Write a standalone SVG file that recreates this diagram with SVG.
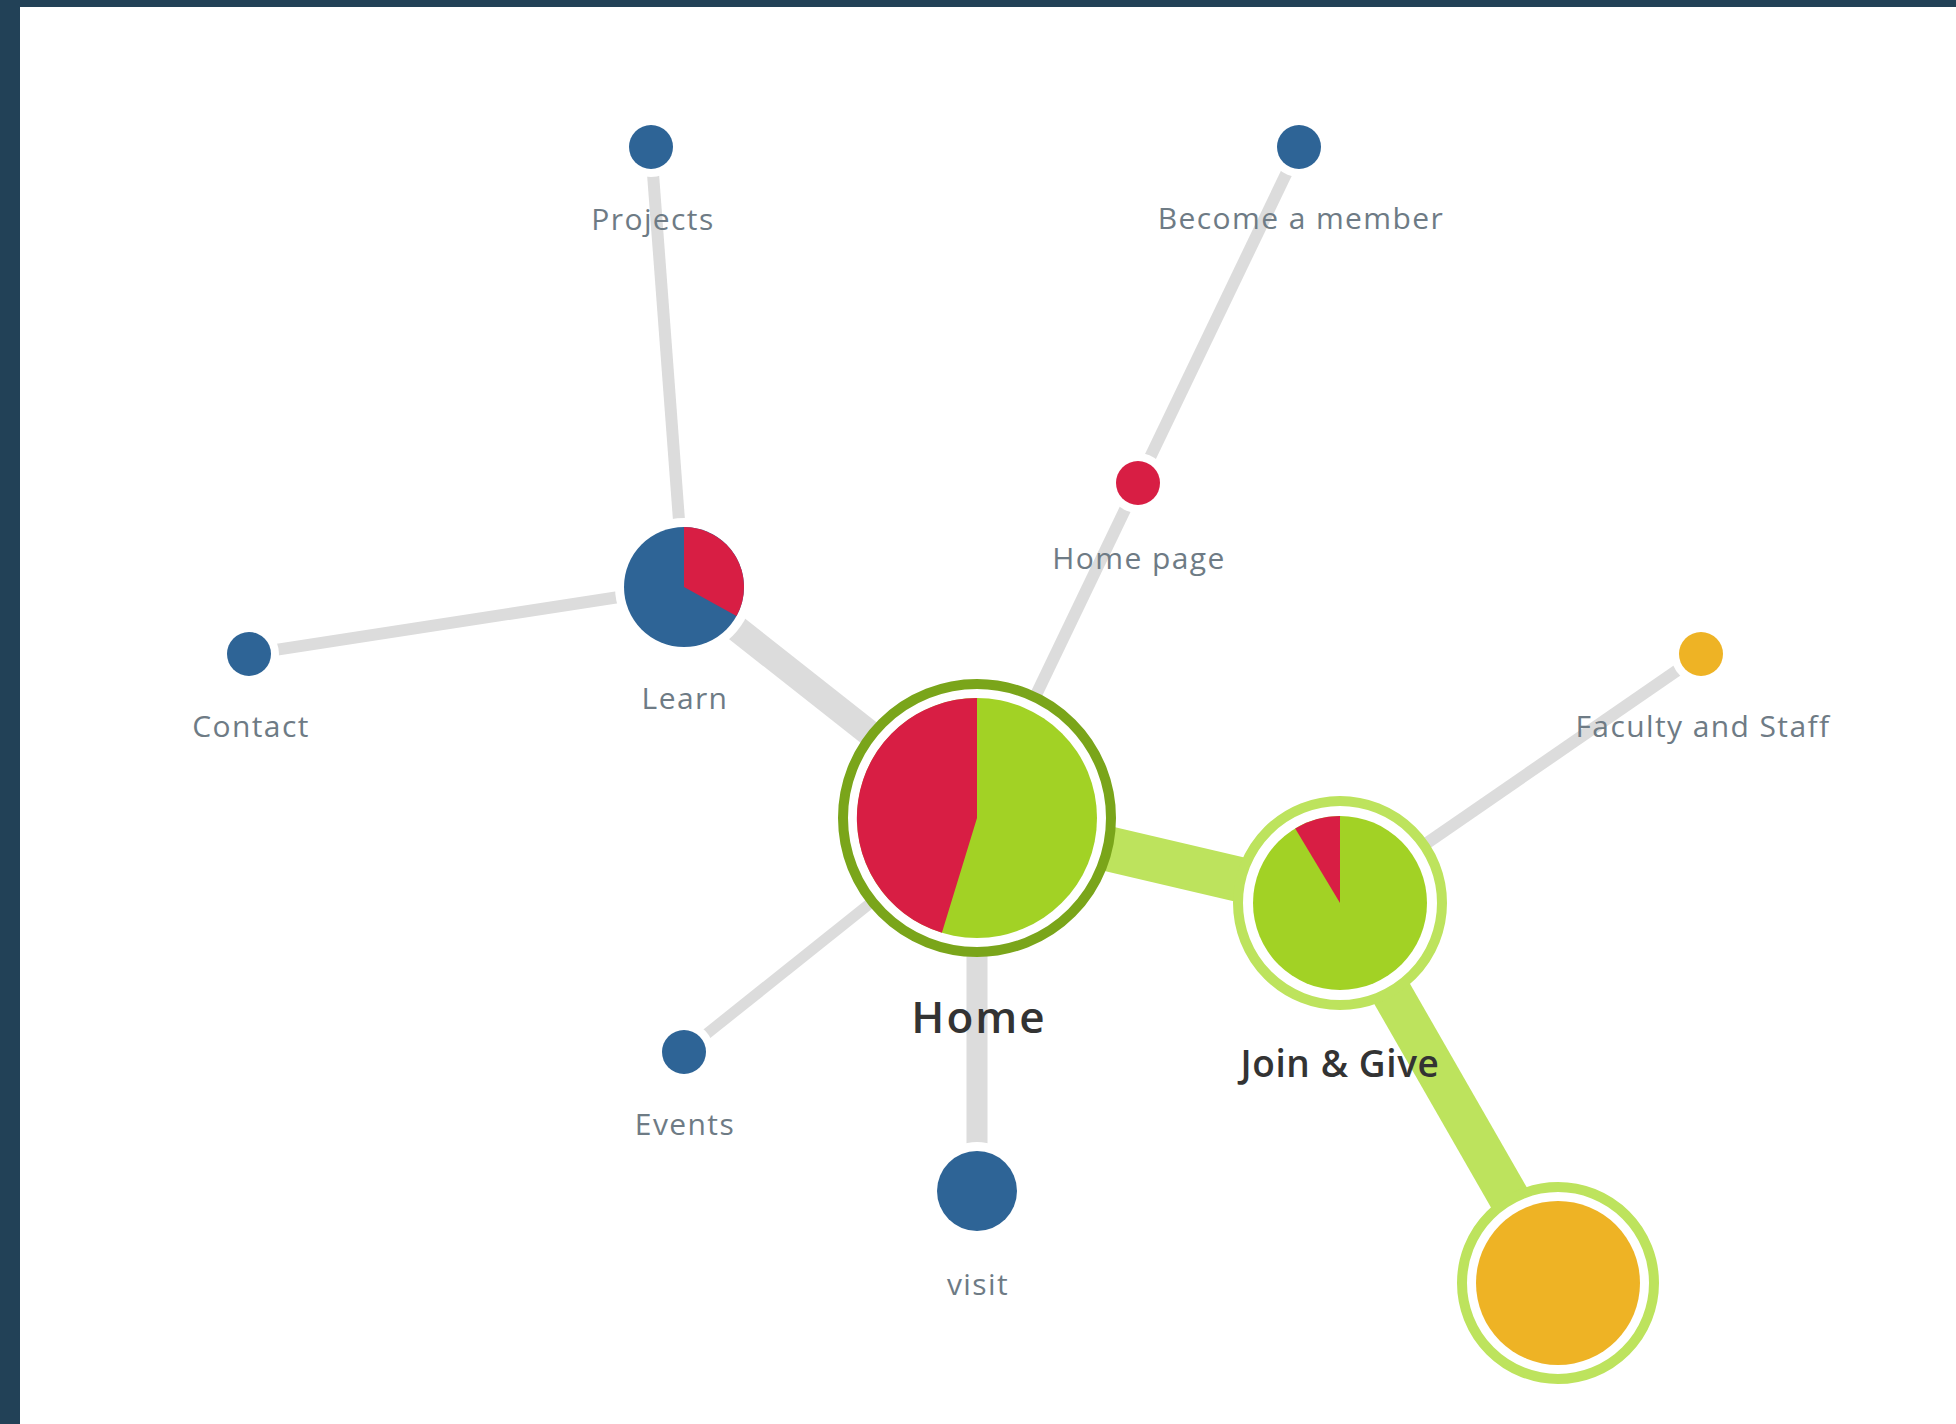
<svg xmlns="http://www.w3.org/2000/svg" width="1956" height="1424" viewBox="0 0 1956 1424">
  <style>
    .link { stroke: #dcdcdc; fill: none; stroke-linecap: butt; }
    .glink { stroke: #bde35d; fill: none; }
    .halo { fill: #ffffff; }
    .blue { fill: #2e6496; }
    .red { fill: #d81e44; }
    .green { fill: #a2d225; }
    .orange { fill: #eeb325; }
    .label { font-family: "Open Sans", "Liberation Sans", sans-serif; font-size: 30px; fill: #6e7b85; text-anchor: middle; letter-spacing: 1.4px; }
    .title { font-family: "Open Sans", "Liberation Sans", sans-serif; fill: #333333; text-anchor: middle; font-weight: 600; }
  </style>

  <!-- page frame -->
  <rect x="0" y="0" width="1956" height="1424" fill="#224157"/>
  <rect x="20" y="7" width="1936" height="1417" fill="#ffffff"/>

  <g id="connectors">
    <line class="link" x1="651" y1="147" x2="684" y2="587" stroke-width="12"/>
    <line class="link" x1="249" y1="654" x2="684" y2="587" stroke-width="12"/>
    <line class="link" x1="684" y1="587" x2="977" y2="818" stroke-width="26"/>
    <line class="link" x1="1299" y1="147" x2="977" y2="818" stroke-width="12"/>
    <line class="link" x1="684" y1="1052" x2="977" y2="818" stroke-width="11"/>
    <line class="link" x1="977" y1="818" x2="977" y2="1191" stroke-width="21"/>
    <line class="link" x1="1701" y1="654" x2="1340" y2="903" stroke-width="12"/>
    <line class="glink" x1="977" y1="818" x2="1340" y2="903" stroke-width="45"/>
    <line class="glink" x1="1340" y1="903" x2="1558" y2="1283" stroke-width="41"/>
  </g>

  <g id="node-projects">
    <circle class="halo" cx="651" cy="147" r="30"/>
    <circle class="blue" cx="651" cy="147" r="22"/>
    <text class="label" x="653" y="230">Projects</text>
  </g>

  <g id="node-become-member">
    <circle class="halo" cx="1299" cy="147" r="30"/>
    <circle class="blue" cx="1299" cy="147" r="22"/>
    <text class="label" x="1301" y="229">Become a member</text>
  </g>

  <g id="node-home-page">
    <circle class="halo" cx="1138" cy="483" r="30"/>
    <circle class="red" cx="1138" cy="483" r="22"/>
    <text class="label" x="1139" y="569">Home page</text>
  </g>

  <g id="node-contact">
    <circle class="halo" cx="249" cy="654" r="30"/>
    <circle class="blue" cx="249" cy="654" r="22"/>
    <text class="label" x="251" y="737">Contact</text>
  </g>

  <g id="node-learn">
    <circle class="halo" cx="684" cy="587" r="69"/>
    <circle class="blue" cx="684" cy="587" r="60"/>
    <path class="red" d="M684,587 L684,527 A60,60 0 0 1 736.5,616.1 Z"/>
    <text class="label" x="685" y="709">Learn</text>
  </g>

  <g id="node-faculty">
    <circle class="halo" cx="1701" cy="654" r="30"/>
    <circle class="orange" cx="1701" cy="654" r="22"/>
    <text class="label" x="1703" y="737">Faculty and Staff</text>
  </g>

  <g id="node-events">
    <circle class="halo" cx="684" cy="1052" r="30"/>
    <circle class="blue" cx="684" cy="1052" r="22"/>
    <text class="label" x="685" y="1135">Events</text>
  </g>

  <g id="node-visit">
    <circle class="halo" cx="977" cy="1191" r="49"/>
    <circle class="blue" cx="977" cy="1191" r="40"/>
    <text class="label" x="978" y="1295">visit</text>
  </g>

  <g id="node-home">
    <circle cx="977" cy="818" r="134" fill="#ffffff" stroke="#7aa51a" stroke-width="10"/>
    <circle class="green" cx="977" cy="818" r="120"/>
    <path class="red" d="M977,818 L941.9,932.8 A120,120 0 0 1 977,698 Z"/>
    <text class="title" x="979" y="1033" font-size="44" letter-spacing="2">Home</text>
  </g>

  <g id="node-join-give">
    <circle cx="1340" cy="903" r="102" fill="#ffffff" stroke="#bde35d" stroke-width="10"/>
    <circle class="green" cx="1340" cy="903" r="87"/>
    <path class="red" d="M1340,903 L1295.2,828.4 A87,87 0 0 1 1340,816 Z"/>
    <text class="title" x="1340" y="1077" font-size="37" letter-spacing="0.6">Join &amp; Give</text>
  </g>

  <g id="node-donate">
    <circle cx="1558" cy="1283" r="96" fill="#ffffff" stroke="#bde35d" stroke-width="10"/>
    <circle class="orange" cx="1558" cy="1283" r="82"/>
  </g>
</svg>
